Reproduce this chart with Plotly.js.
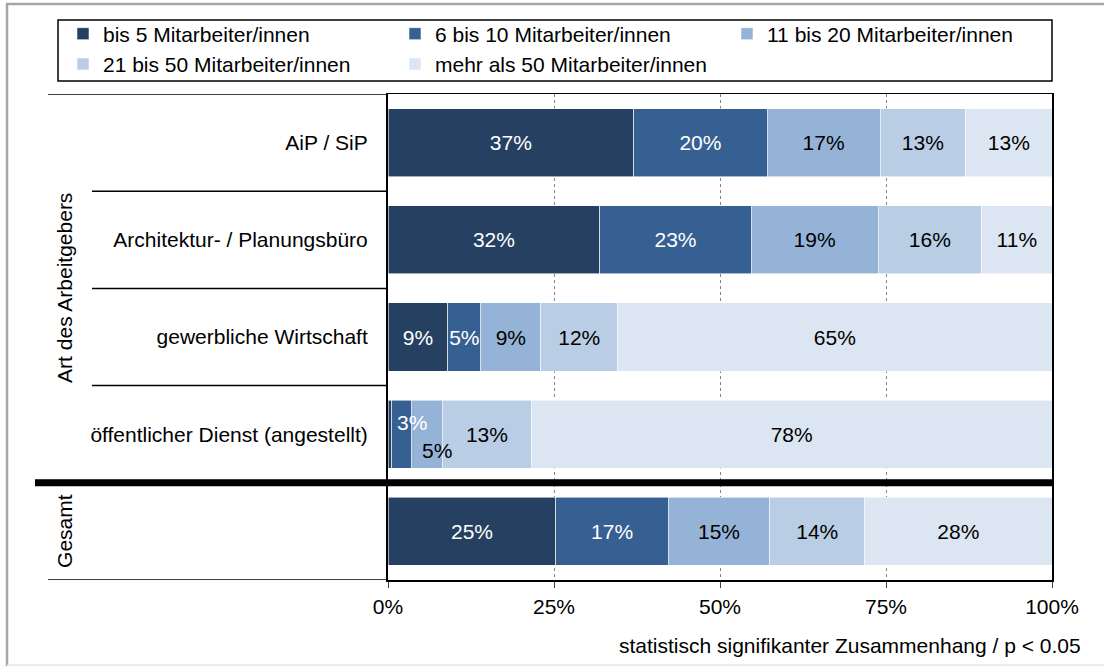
<!DOCTYPE html>
<html>
<head>
<meta charset="utf-8">
<script src="https://cdn.plot.ly/plotly-3.0.1.min.js"></script>
<style>html,body{margin:0;padding:0;background:#fff;overflow:hidden;}#chart{width:1104px;height:666px;}</style>
</head>
<body>
<div id="chart"></div>
<script>
const categories = ['AiP / SiP', 'Architektur- / Planungsbüro', 'gewerbliche Wirtschaft', 'öffentlicher Dienst (angestellt)', 'Gesamt'];
const tickLabels = ['AiP / SiP', 'Architektur- / Planungsbüro', 'gewerbliche Wirtschaft', 'öffentlicher Dienst (angestellt)', ''];
const seriesNames = ['bis 5 Mitarbeiter/innen', '6 bis 10 Mitarbeiter/innen', '11 bis 20 Mitarbeiter/innen', '21 bis 50 Mitarbeiter/innen', 'mehr als 50 Mitarbeiter/innen'];
const bis5 = [37.0, 31.9, 9.0, 0.6, 25.3];
const bis10 = [20.1, 22.8, 5.0, 2.9, 16.9];
const bis20 = [17.0, 19.1, 9.0, 4.7, 15.3];
const bis50 = [12.9, 15.6, 11.6, 13.4, 14.3];
const mehr50 = [13.0, 10.6, 65.4, 78.4, 28.2];
const xTicks = [0, 25, 50, 75, 100];
const groupLabels = ['Art des Arbeitgebers', 'Gesamt'];
const noteText = 'statistisch signifikanter Zusammenhang / p < 0.05';

const series = [bis5, bis10, bis20, bis50, mehr50];
const colors = ['#254061', '#376092', '#95B3D7', '#B9CDE5', '#DCE6F2'];
const textColors = ['#ffffff', '#ffffff', '#000000', '#000000', '#000000'];
const legendIds = ['legend', 'legend2', 'legend3', 'legend', 'legend2'];
const FONT = 'Liberation Sans, Arial, sans-serif';
const FS = 21;

// small segments in the "öffentlicher Dienst" row get nudged labels (annotations) instead
const nudgedRow = 3;
const nudges = {0: null, 1: {xs: 10, ys: 12}, 2: {xs: 10, ys: -16}};

const traces = series.map((vals, s) => ({
  type: 'bar',
  orientation: 'h',
  name: seriesNames[s],
  y: categories,
  x: vals,
  text: vals.map((v, i) => (i === nudgedRow && s in nudges) ? '' : Math.round(v) + '%'),
  textposition: 'inside',
  insidetextanchor: 'middle',
  textangle: 0,
  constraintext: 'none',
  insidetextfont: {family: FONT, size: FS, color: textColors[s]},
  marker: {color: colors[s], line: {color: 'rgba(255,255,255,0.7)', width: 0.8}},
  legend: legendIds[s],
  hoverinfo: 'skip'
}));

const annotations = [];
for (const s of [1, 2]) {
  let start = 0;
  for (let k = 0; k < s; k++) start += series[k][nudgedRow];
  const v = series[s][nudgedRow];
  annotations.push({
    x: start + v / 2, y: categories[nudgedRow], xref: 'x', yref: 'y',
    text: Math.round(v) + '%', showarrow: false,
    xshift: nudges[s].xs, yshift: nudges[s].ys,
    font: {family: FONT, size: FS, color: textColors[s]}
  });
}
const px = v => (v - 388) / 664;
const py = v => (580 - v) / 486;

annotations.push({
  x: px(51), xref: 'paper', y: 1.5, yref: 'y', text: groupLabels[0],
  textangle: -90, showarrow: false, font: {family: FONT, size: FS, color: '#000'}
});
annotations.push({
  x: px(51), xref: 'paper', y: 4, yref: 'y', text: groupLabels[1],
  textangle: -90, showarrow: false, font: {family: FONT, size: FS, color: '#000'}
});
annotations.push({
  x: px(1083), xref: 'paper', xanchor: 'right',
  y: py(645), yref: 'paper', yanchor: 'middle',
  text: noteText, showarrow: false, font: {family: FONT, size: FS, color: '#000'}
});

const shapes = [
  {type: 'line', xref: 'paper', yref: 'paper', x0: px(6), x1: px(1104), y0: py(4), y1: py(4), line: {color: '#a6a6a6', width: 2.5}, layer: 'above'},
  {type: 'line', xref: 'paper', yref: 'paper', x0: px(7), x1: px(7), y0: py(4), y1: py(666), line: {color: '#a6a6a6', width: 2.5}, layer: 'above'},
  {type: 'line', xref: 'paper', yref: 'paper', x0: px(7), x1: px(1104), y0: py(665), y1: py(665), line: {color: '#e6e6e6', width: 1.5}, layer: 'above'},
  {type: 'rect', xref: 'paper', yref: 'paper', x0: px(58), x1: px(1052), y0: py(81), y1: py(20), line: {color: '#000', width: 1.5}, layer: 'above'},
  {type: 'line', xref: 'paper', yref: 'y', x0: px(48), x1: 0, y0: -0.5, y1: -0.5, line: {color: '#000', width: 1.5}},
  {type: 'line', xref: 'paper', yref: 'y', x0: px(92), x1: 0, y0: 0.5, y1: 0.5, line: {color: '#000', width: 1.5}},
  {type: 'line', xref: 'paper', yref: 'y', x0: px(92), x1: 0, y0: 1.5, y1: 1.5, line: {color: '#000', width: 1.5}},
  {type: 'line', xref: 'paper', yref: 'y', x0: px(92), x1: 0, y0: 2.5, y1: 2.5, line: {color: '#000', width: 1.5}},
  {type: 'line', xref: 'paper', yref: 'y', x0: px(35), x1: 1, y0: 3.5, y1: 3.5, line: {color: '#000', width: 7}, layer: 'above'},
  {type: 'line', xref: 'paper', yref: 'y', x0: px(48), x1: 0, y0: 4.5, y1: 4.5, line: {color: '#000', width: 1.5}}
];

const legendBase = {
  orientation: 'v', traceorder: 'normal', xanchor: 'left', yanchor: 'top',
  y: py(13.5), bgcolor: 'rgba(0,0,0,0)', borderwidth: 0,
  font: {family: FONT, size: FS, color: '#000'}, itemclick: false, itemdoubleclick: false
};

const layout = {
  width: 1104, height: 666,
  margin: {l: 388, r: 52, t: 94, b: 86, autoexpand: false},
  paper_bgcolor: '#fff', plot_bgcolor: '#fff',
  font: {family: FONT, size: FS, color: '#000'},
  barmode: 'stack', bargap: 0.3,
  showlegend: true,
  legend: Object.assign({}, legendBase, {x: px(63)}),
  legend2: Object.assign({}, legendBase, {x: px(395)}),
  legend3: Object.assign({}, legendBase, {x: px(727)}),
  xaxis: {
    range: [0, 100], tickvals: xTicks, ticktext: xTicks.map(t => t + '%'),
    showgrid: true, gridcolor: '#808080', griddash: 'dot', gridwidth: 1,
    zeroline: false, showline: true, mirror: true, linecolor: '#000', linewidth: 1.5,
    ticks: 'outside', ticklen: 6, tickcolor: '#404040', ticklabelstandoff: 1,
    tickfont: {family: FONT, size: FS, color: '#000'}, fixedrange: true
  },
  yaxis: {
    type: 'category', categoryarray: categories, range: [4.5, -0.5],
    tickvals: categories, ticktext: tickLabels,
    showgrid: false, zeroline: false, showline: true, mirror: true, linecolor: '#000', linewidth: 2,
    ticks: '', ticklabelstandoff: 14,
    tickfont: {family: FONT, size: FS, color: '#000'}, fixedrange: true
  },
  shapes: shapes,
  annotations: annotations
};

Plotly.newPlot('chart', traces, layout, {displayModeBar: false, staticPlot: true});
</script>
</body>
</html>
